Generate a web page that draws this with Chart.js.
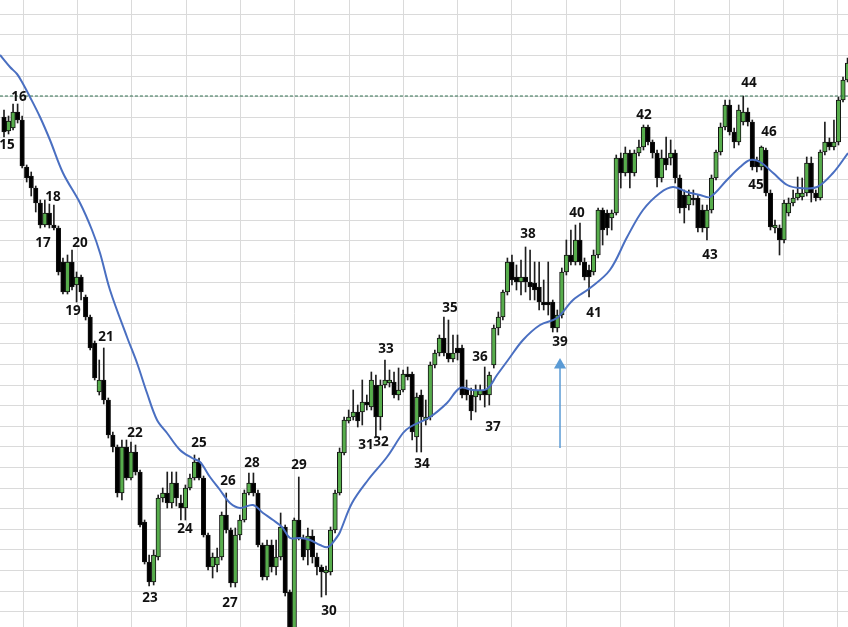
<!DOCTYPE html>
<html><head><meta charset="utf-8">
<script src="https://cdn.jsdelivr.net/npm/chart.js@4.4.1/dist/chart.umd.min.js"></script>
<style>html,body{margin:0;padding:0;background:#fff;overflow:hidden}#wrap{width:848px;height:627px;position:relative}canvas{display:block}</style>
</head><body><div id="wrap"><canvas id="c" width="848" height="627"></canvas></div>
<script>
// Candle values. The price axis is drawn reversed (smaller number = higher on screen).
const openV = [117,131,128,112,120,167,176,188,203,225,213,225,228,262,292,262,285,277,297,317,343,392,380,400,435,447,493,447,478,452,472,522,562,582,557,498,493,503,483,503,508,488,478,462,478,535,567,565,557,515,530,583,535,520,493,483,493,545,577,545,567,557,527,592,650,520,538,550,536,557,567,573,572,530,493,453,421,417,412,412,402,407,385,417,385,383,382,395,390,374,374,437,395,420,417,365,353,338,353,359,348,348,388,395,397,395,390,395,365,328,317,292,262,277,282,277,282,283,287,302,302,302,328,315,272,255,262,240,262,270,272,255,210,213,218,213,158,173,153,173,153,147,127,142,153,178,158,158,153,178,195,205,198,198,210,228,210,178,152,127,105,132,142,122,112,122,160,167,150,193,228,228,240,213,203,198,197,193,163,193,198,152,142,147,142,100,80];
const highV = [110,116,104,104,116,165,172,186,200,200,204,205,226,258,255,250,272,275,295,315,341,360,348,398,432,445,440,440,442,445,470,520,555,550,495,488,472,472,472,495,485,474,455,458,476,533,553,548,512,493,528,528,515,490,473,473,490,543,540,540,540,513,525,590,518,477,535,528,530,553,565,566,527,490,448,417,410,390,405,380,395,372,375,380,360,370,372,368,370,367,372,393,390,400,362,350,335,317,320,335,335,345,380,388,385,385,367,372,325,312,290,258,255,265,260,247,250,262,262,280,262,300,310,268,240,230,225,223,258,265,250,208,208,210,210,155,153,147,150,150,140,125,125,140,150,150,137,140,150,175,190,190,190,195,205,205,175,150,123,100,100,128,105,96,108,120,157,146,148,190,220,225,200,198,190,177,178,157,157,190,150,122,138,120,97,77,58];
const lowV = [137,134,130,123,168,182,196,212,228,227,228,230,275,294,294,290,302,300,320,350,380,395,404,438,452,497,500,480,480,475,527,564,586,585,560,502,508,508,506,520,520,490,480,480,537,570,578,572,560,533,587,587,540,522,495,496,547,580,580,572,575,560,596,660,660,540,560,565,563,575,597,595,575,533,495,455,423,420,427,425,410,410,437,430,388,387,398,400,392,380,440,452,452,425,420,368,356,356,362,362,360,398,400,420,412,400,407,405,368,335,320,295,285,290,295,292,300,300,310,310,315,332,332,318,275,265,265,265,280,297,275,258,245,235,230,215,188,176,188,176,156,150,145,158,187,182,170,165,183,213,223,210,205,232,232,240,213,180,155,130,135,148,145,125,126,170,172,170,196,230,233,255,243,216,206,200,200,196,202,201,200,155,150,150,145,102,82];
const closeV = [132,121,112,120,166,178,188,203,225,213,225,228,272,292,262,287,277,292,317,348,378,380,400,435,447,493,447,478,452,472,525,562,582,555,498,493,503,483,498,508,488,478,462,478,535,567,557,557,515,530,583,535,520,493,483,493,545,577,545,567,557,527,593,650,520,538,557,536,557,567,572,570,530,493,452,420,417,412,421,402,405,380,417,385,380,380,395,390,374,377,432,397,417,417,365,353,338,353,359,353,353,395,395,411,390,390,395,375,328,317,292,262,280,282,277,282,287,290,302,305,305,328,315,272,255,262,240,262,277,277,255,210,230,228,213,158,173,153,173,153,147,127,142,153,178,158,165,153,178,208,208,195,200,228,228,210,178,152,127,105,132,142,110,112,122,167,167,147,193,227,225,240,203,203,198,193,193,163,193,198,152,142,147,142,100,80,63];

// Moving-average line, read point by point (candle position, value)
const maIndex = [-0.88,1.32,2.87,3.97,5.73,7.94,10.14,13.01,16.76,19.40,21.17,23.37,27.12,29.33,31.53,33.74,35.94,38.81,41.46,43.22,45.42,47.63,49.83,52.04,54.91,57.11,59.32,61.30,63.07,65.27,67.48,69.68,71.44,73.43,74.09,76.74,80.26,84.45,87.98,89.53,93.94,97.68,100.55,103.42,106.50,108.71,111.14,114.44,118.19,121.94,125.47,129.22,133.6,137.4,140.9,144.65,147.5,150.6,153.5,155.7,159.4,162.3,164.5,166.7,169.6,172.7,175.5,179.3,182.8,186.1];
const maValue = [55,67,74,82,97,117,140,173,203,230,253,290,337,363,393,420,433,450,458,462,477,490,503,508,505,513,520,527,538,538,540,545,547,537,532,503,480,457,433,427,417,403,388,390,389,375,360,340,325,318,300,288,270,237,210,193,187,192,195,197,180,167,160,162,173,185,188,187,173,153];

// Horizontal level (dashed) and arrow marker
const resistanceLevel = 96;
const arrowIndex = 122.6;
const arrowFrom = 448;
const arrowTo = 365;

// Swing labels
const pivotText = ['15','16','17','18','19','20','21','22','23','24','25','26','27','28','29','30','31','32','33','34','35','36','37','38','39','40','41','42','43','44','45','46'];
const pivotIndex = [0.66,3.31,8.60,10.80,15.21,16.76,22.49,28.89,32.19,39.91,43.00,49.39,49.83,54.69,65.05,71.66,79.82,83.13,84.23,92.17,98.35,104.96,107.83,115.55,122.60,126.35,130.10,141.12,155.68,164.28,165.82,168.69];
const pivotValue = [145,97,243,197,311,243,337,433,598,529,443,481,603,463,465,611,445,442,349,464,308,357,427,234,342,213,313,115,255,83,185,132];

const GREEN = '#57ad4c';
const GRID = '#dadada';
// Spreadsheet cell grid (background): first line and spacing, in pixels
const cellCols = { first: 22.7, step: 54.3 };
const cellRows = { first: 13.8, step: 20.6 };
const idx = openV.map((_, i) => i);

const cellGrid = {
  id: 'cellGrid',
  beforeDatasetsDraw(chart) {
    const { ctx, chartArea: a } = chart;
    ctx.save();
    ctx.strokeStyle = GRID;
    ctx.lineWidth = 1;
    ctx.beginPath();
    for (let px = a.left + cellCols.first; px < a.right; px += cellCols.step) {
      const p = Math.round(px) + 0.5;
      ctx.moveTo(p, a.top); ctx.lineTo(p, a.bottom);
    }
    for (let py = a.top + cellRows.first; py < a.bottom; py += cellRows.step) {
      const p = Math.round(py) + 0.5;
      ctx.moveTo(a.left, p); ctx.lineTo(a.right, p);
    }
    ctx.stroke();
    ctx.restore();
  }
};

const pivotPlugin = {
  id: 'pivots',
  afterDatasetsDraw(chart) {
    const { ctx, scales: { x, y } } = chart;
    ctx.save();
    ctx.font = 'bold 13.5px "Open Sans", Lato, sans-serif';
    ctx.fillStyle = '#111';
    ctx.textAlign = 'center';
    ctx.textBaseline = 'middle';
    pivotText.forEach((t, k) => ctx.fillText(t, x.getPixelForValue(pivotIndex[k]), y.getPixelForValue(pivotValue[k])));
    ctx.restore();
  }
};

new Chart(document.getElementById('c'), {
  type: 'bar',
  data: {
    datasets: [
      {
        type: 'line', label: 'MA', order: 0,
        data: maIndex.map((v, k) => ({ x: v, y: maValue[k] })),
        borderColor: '#4a6fc1', borderWidth: 2, pointRadius: 0, tension: 0.35, fill: false
      },
      {
        type: 'line', label: 'arrow', order: 1,
        data: [{ x: arrowIndex, y: arrowFrom }, { x: arrowIndex, y: arrowTo }],
        borderColor: '#5b9bd5', borderWidth: 1.5,
        pointRadius: [0, 7], pointStyle: 'triangle',
        pointBackgroundColor: '#5b9bd5', pointBorderColor: '#5b9bd5', pointBorderWidth: 0
      },
      {
        type: 'line', label: 'level', order: 2,
        data: [{ x: -2, y: resistanceLevel }, { x: 190, y: resistanceLevel }],
        borderColor: '#2f6f4f', borderWidth: 1, borderDash: [3, 2], pointRadius: 0
      },
      {
        type: 'bar', label: 'bodies', order: 3, grouped: false,
        data: idx.map(i => ({ x: i, y: [openV[i], closeV[i]] })),
        backgroundColor: idx.map(i => closeV[i] < openV[i] ? GREEN : '#000'),
        borderColor: '#111', borderWidth: 1, borderSkipped: false,
        barThickness: 4.5, minBarLength: 2
      },
      {
        type: 'bar', label: 'wicks', order: 4, grouped: false,
        data: idx.map(i => ({ x: i, y: [highV[i], lowV[i]] })),
        backgroundColor: '#1e1e1e', borderWidth: 0, barThickness: 1
      }
    ]
  },
  options: {
    responsive: false, animation: false, events: [],
    layout: { padding: 0, autoPadding: false },
    plugins: { legend: { display: false }, tooltip: { enabled: false } },
    scales: {
      x: { type: 'linear', min: -0.882, max: 186.1, display: false, offset: false },
      y: { type: 'linear', min: 0, max: 627, reverse: true, display: false }
    }
  },
  plugins: [cellGrid, pivotPlugin]
});
</script>
</body></html>
